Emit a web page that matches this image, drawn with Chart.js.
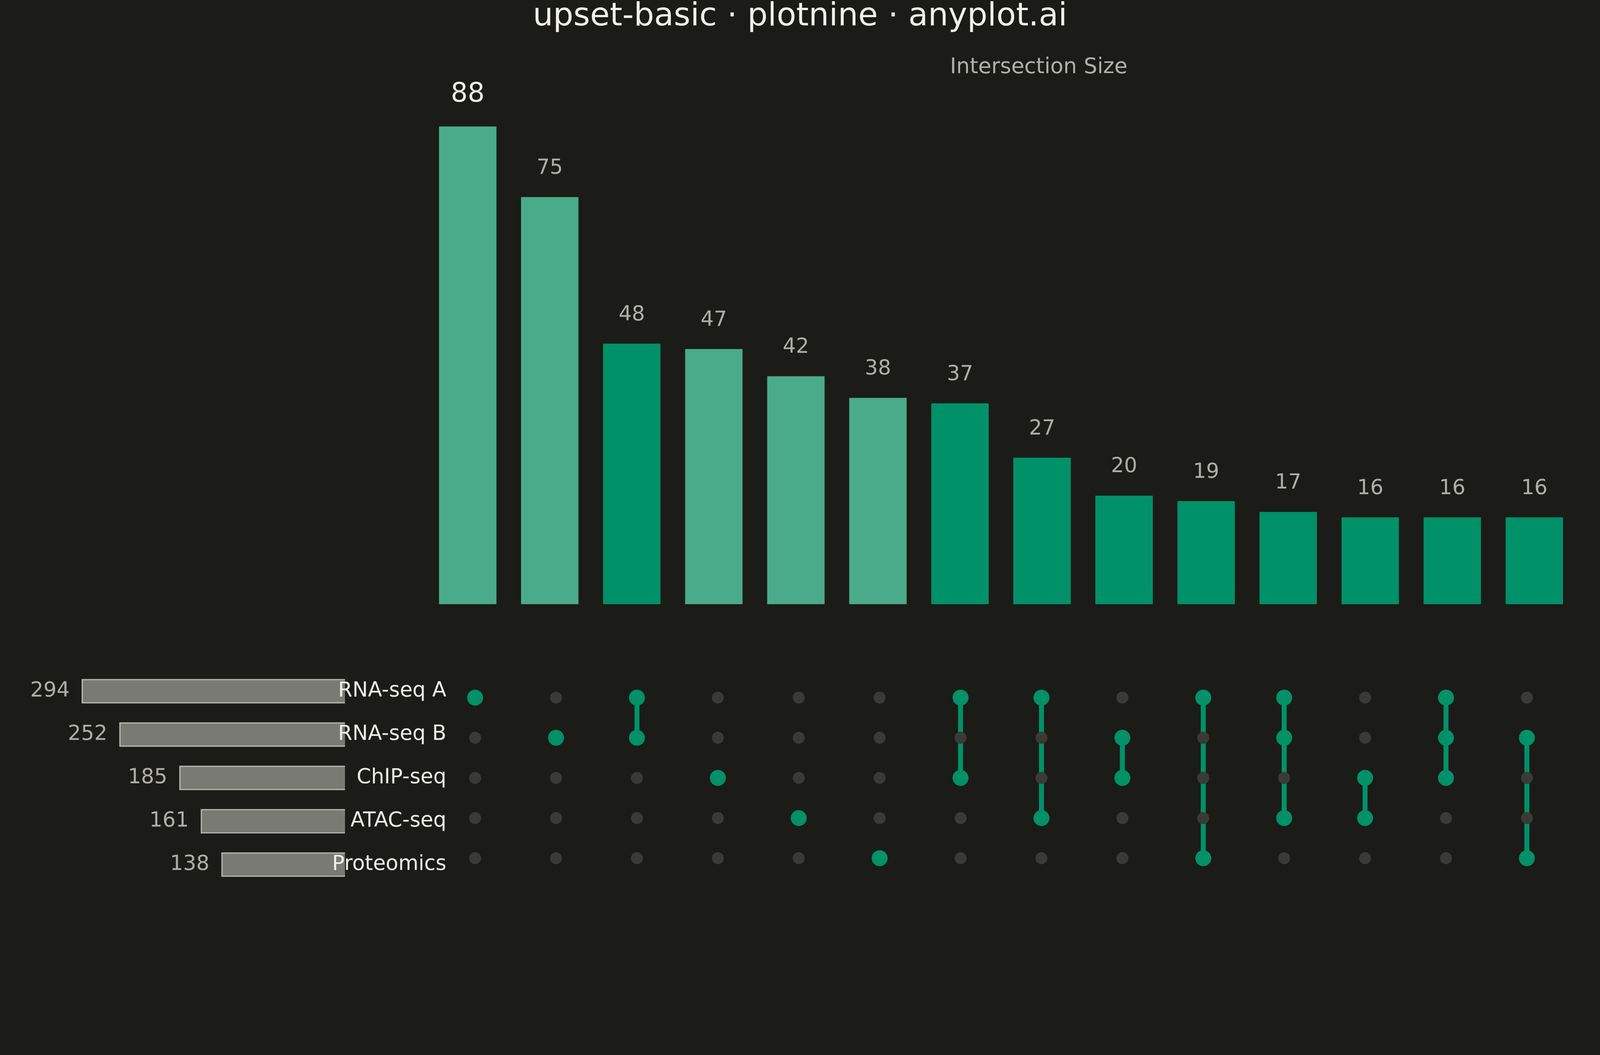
<!DOCTYPE html>
<html>
<head>
<meta charset="utf-8">
<script src="https://cdn.jsdelivr.net/npm/chart.js@4"></script>
<style>
  html, body { margin:0; padding:0; background:#1b1b18; overflow:hidden; }
  #stage { width:4800px; height:2700px; position:absolute; left:0; top:0; transform-origin:0 0; font-family:"DejaVu Sans", sans-serif; }
  .box { position:absolute; }
  #title { position:absolute; left:0; width:4800px; text-align:center; color:#f0efe8; font-size:96px; line-height:96px; top:-5px; }
  #ylab { position:absolute; left:2850px; top:160px; color:#b0afa8; font-size:64px; }
</style>
</head>
<body>
<div id="stage">
<div id="title">upset-basic · plotnine · anyplot.ai</div>
<div id="ylab">Intersection Size</div>
<div class="box" style="left:1280px;top:150px;width:3446px;height:1662px"><canvas id="bars"></canvas></div>
<div class="box" style="left:1280px;top:2008px;width:3446px;height:650px"><canvas id="matrix"></canvas></div>
<div class="box" style="left:60px;top:2008px;width:1281px;height:650px"><canvas id="sets"></canvas></div>
</div>
<script>
var setNames = ['RNA-seq A', 'RNA-seq B', 'ChIP-seq', 'ATAC-seq', 'Proteomics'];
var setSizes = [294, 252, 185, 161, 138];
var interMembers = [[0], [1], [0,1], [2], [3], [4], [0,2], [0,3], [1,2], [0,4], [0,1,3], [2,3], [0,1,2], [1,4]];
var interSizes = [88, 75, 48, 47, 42, 38, 37, 27, 20, 19, 17, 16, 16, 16];

var LIGHT = '#4aab8a', DARK = '#009168', DOT = '#3a3a37';
var cats = interSizes.map(function (v, i) { return i; });
var font = '"DejaVu Sans", sans-serif';

// fit the 4800x2700 stage into whatever viewport we get
var sc = Math.min(window.innerWidth / 4800, window.innerHeight / 2700);
document.getElementById('stage').style.transform = 'scale(' + sc + ')';

Chart.defaults.animation = false;
Chart.defaults.responsive = true;
Chart.defaults.maintainAspectRatio = false;
Chart.defaults.plugins.legend.display = false;
Chart.defaults.plugins.tooltip.enabled = false;

// value labels above bars
var barLabels = {
  id: 'barLabels',
  afterDatasetsDraw: function (chart) {
    var ctx = chart.ctx;
    chart.getDatasetMeta(0).data.forEach(function (bar, i) {
      ctx.save();
      ctx.textAlign = 'center';
      ctx.textBaseline = 'bottom';
      if (i === 0) { ctx.fillStyle = '#f0efe8'; ctx.font = '80px ' + font; }
      else { ctx.fillStyle = '#b0afa8'; ctx.font = '62px ' + font; }
      ctx.fillText(interSizes[i], bar.x, bar.y - 55);
      ctx.restore();
    });
  }
};

new Chart(document.getElementById('bars'), {
  type: 'bar',
  data: {
    labels: cats,
    datasets: [{
      data: interSizes,
      backgroundColor: interMembers.map(function (m) { return m.length === 1 ? LIGHT : DARK; }),
      categoryPercentage: 1.0,
      barPercentage: 0.7
    }]
  },
  options: {
    layout: { padding: { top: 156, left: 0, right: 0, bottom: 0 } },
    scales: {
      x: { display: false },
      y: { display: false, min: 0, max: 92.5 }
    }
  },
  plugins: [barLabels]
});

// matrix: grey dots for all, green dots + connecting line for members
var matrixSets = [];
var greyPts = [];
cats.forEach(function (c) { setNames.forEach(function (s, r) { greyPts.push({ x: c, y: r }); }); });
matrixSets.push({ type: 'scatter', data: greyPts, pointRadius: 18, backgroundColor: DOT, borderWidth: 0, order: 1 });
interMembers.forEach(function (m, c) {
  var rows = m.slice().sort();
  matrixSets.push({
    type: 'line',
    data: [{ x: c, y: rows[0] }, { x: c, y: rows[rows.length - 1] }],
    borderColor: DARK, borderWidth: 15, pointRadius: 0, order: 2
  });
  matrixSets.push({
    type: 'scatter',
    data: rows.map(function (r) { return { x: c, y: r }; }),
    pointRadius: 24, backgroundColor: DARK, borderWidth: 0, order: 0
  });
});

new Chart(document.getElementById('matrix'), {
  type: 'scatter',
  data: { datasets: matrixSets },
  options: {
    layout: { padding: 0 },
    scales: {
      x: { display: false, min: -0.5, max: 13.5 },
      y: { display: false, min: -0.5, max: 4.5, reverse: true }
    }
  }
});

// set size bars
var setLabels = {
  id: 'setLabels',
  afterDatasetsDraw: function (chart) {
    var ctx = chart.ctx;
    chart.getDatasetMeta(0).data.forEach(function (bar, i) {
      ctx.save();
      ctx.textBaseline = 'middle';
      ctx.textAlign = 'right';
      ctx.font = '62px ' + font;
      ctx.fillStyle = '#b0afa8';
      ctx.fillText(setSizes[i], bar.x - 36, bar.y);
      ctx.fillStyle = '#f0efe8';
      ctx.fillText(setNames[i], chart.width - 2, bar.y);
      ctx.restore();
    });
  }
};

new Chart(document.getElementById('sets'), {
  type: 'bar',
  data: {
    labels: setNames,
    datasets: [{
      data: setSizes,
      backgroundColor: '#7a7a74',
      borderColor: '#b8b7b0',
      borderWidth: 4,
      barThickness: 73
    }]
  },
  options: {
    indexAxis: 'y',
    layout: { padding: { left: 169, right: 306, top: 0, bottom: 0 } },
    scales: {
      x: { display: false, min: 0, max: 300, reverse: true },
      y: { display: false }
    }
  },
  plugins: [setLabels]
});
</script>
</body>
</html>
